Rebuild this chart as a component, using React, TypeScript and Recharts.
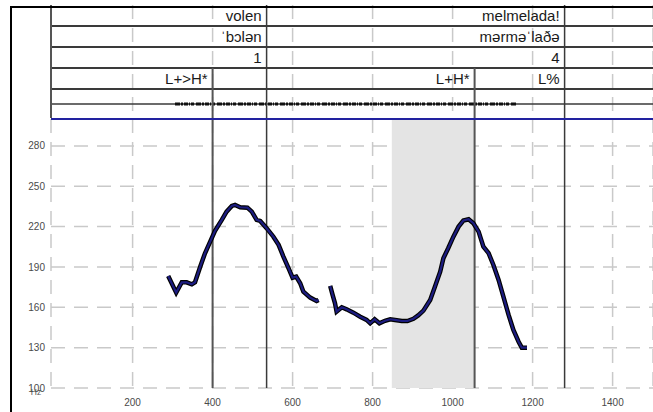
import React from 'react';
import {
  ComposedChart,
  Line,
  XAxis,
  YAxis,
  CartesianGrid,
  ReferenceLine,
  ReferenceArea,
  Scatter,
} from 'recharts';

// ---- axes ----
const X_DOMAIN: [number, number] = [-4, 1501];
const X_TICKS = [200, 400, 600, 800, 1000, 1200, 1400];
const Y_DOMAIN: [number, number] = [100, 300];
const Y_TICKS = [100, 130, 160, 190, 220, 250, 280];

// ---- pitch contour (ms, Hz); null = unvoiced gap ----
const TIME_MS = [
  289, 309, 323, 335, 348, 356, 369, 381, 394, 406, 423, 435, 448, 456, 469, 487, 498, 510, 519, 535,
  552, 565, 577, 590, 600, 609, 619, 627, 644, 660, 665,
  680,
  694, 700, 706, 710, 723, 735, 752, 769, 785, 794, 805, 817, 831, 844, 856, 873, 887, 902, 914, 927,
  944, 956, 969, 977, 989, 1002, 1015, 1027, 1040, 1052, 1065, 1077, 1090, 1102, 1115, 1127, 1140,
  1152, 1165, 1173, 1186,
];
const F0_HZ: (number | null)[] = [
  183.3, 170.9, 178.6, 178.6, 177.1, 178.6, 190.2, 200.2, 208.8, 216.8, 225, 231.1, 235.4, 236.1, 234.4,
  234.1, 231.1, 225, 224.2, 218.8, 212.5, 206.4, 197.7, 189, 182, 182.8, 177.9, 171.6, 167.2, 164.7, 165.4,
  null,
  175.9, 169.2, 163, 156.8, 160, 158.5, 156, 153, 150.6, 148.1, 151.1, 148.1, 150, 151.1, 150.6, 149.8,
  149.8, 151.5, 154, 157.5, 165.5, 175.4, 186.5, 196.5, 203.9, 212.5, 220, 224.5, 225.5, 222.5, 216.3,
  205.1, 200.2, 191.5, 180.3, 167.9, 154.3, 143.1, 134.4, 130, 130,
];

// ---- TextGrid ----
const TIER_DOMAIN: [number, number] = [0, 5.38];
const TIER_SEPARATORS = [1, 2, 3, 4, 4.71];
const WORD_BOUNDS_MS = [535, 1280];
const TONE_BOUNDS_MS = [400, 1055];
const TONE_TIER_TOP = 3;
const INTERVAL_END_MS = [535, 535, 535, 400, 1280, 1280, 1280, 1055, 1280];
const INTERVAL_TIER = [0, 1, 2, 3, 0, 1, 2, 3, 3];
const INTERVAL_TEXT = ['volen', 'ˈbɔlən', '1', 'L+>H*', 'melmelada!', 'mərməˈlaðə', '4', 'L+H*', 'L%'];
const SIGNAL_SPAN_MS = [306, 1161];
const SELECTION_MS = [848, 1055];

const FONT = '"Liberation Sans", Arial, sans-serif';
const GRID = { stroke: '#c9c9c9', strokeWidth: 1.5, strokeDasharray: '14 9' };

const pitchData = TIME_MS.map((t, i) => ({ t, hz: F0_HZ[i] }));
const labelData = INTERVAL_TEXT.map((text, i) => ({
  t: INTERVAL_END_MS[i],
  row: INTERVAL_TIER[i] + 0.5,
  text,
}));

const LabelShape = (props: any) => {
  const { cx, cy, payload } = props;
  return (
    <text
      x={cx - 5}
      y={cy + 5.5}
      textAnchor="end"
      fontFamily={FONT}
      fontSize={15}
      fill="#1a1a1a"
    >
      {payload.text}
    </text>
  );
};

const HzLabel = (props: any) => {
  const vb = props.viewBox || { x: 0, y: 0, width: 0, height: 0 };
  return (
    <text
      x={vb.x + vb.width - 15}
      y={vb.y + vb.height + 7}
      textAnchor="middle"
      fontFamily={FONT}
      fontSize={8.5}
      fill="#555"
    >
      Hz
    </text>
  );
};

export default function App() {
  return (
    <div style={{ position: 'absolute', left: 0, top: 0, width: 653, height: 412, background: '#fff', overflow: 'hidden' }}>
      {/* TextGrid tiers */}
      <div style={{ position: 'absolute', left: 0, top: 0 }}>
        <ComposedChart width={653} height={118} margin={{ top: 5, right: 0, bottom: 0, left: 51 }}>
          <XAxis type="number" dataKey="t" domain={X_DOMAIN} ticks={X_TICKS} allowDataOverflow hide />
          <YAxis type="number" dataKey="row" domain={TIER_DOMAIN} reversed allowDataOverflow hide />
          <CartesianGrid horizontal={false} vertical {...GRID} />
          {TIER_SEPARATORS.map((y) => (
            <ReferenceLine key={'s' + y} y={y} stroke="#3a3a3a" strokeWidth={y === 4.71 ? 1.5 : 2} />
          ))}
          <ReferenceLine x={X_DOMAIN[0]} stroke="#555" strokeWidth={2} />
          <ReferenceLine
            segment={[
              { x: SIGNAL_SPAN_MS[0], y: 4.71 },
              { x: SIGNAL_SPAN_MS[1], y: 4.71 },
            ]}
            stroke="#111"
            strokeWidth={3}
            strokeDasharray="5 1 2 1 4 1 1 1 3 2"
          />
          {WORD_BOUNDS_MS.map((x) => (
            <ReferenceLine key={'w' + x} x={x} stroke="#3a3a3a" strokeWidth={1.5} />
          ))}
          {TONE_BOUNDS_MS.map((x) => (
            <ReferenceLine
              key={'t' + x}
              segment={[
                { x, y: TONE_TIER_TOP },
                { x, y: TIER_DOMAIN[1] },
              ]}
              stroke="#555"
              strokeWidth={2}
            />
          ))}
          <Scatter data={labelData} dataKey="row" shape={LabelShape} isAnimationActive={false} />
        </ComposedChart>
      </div>

      {/* Pitch panel */}
      <div style={{ position: 'absolute', left: 0, top: 118 }}>
        <ComposedChart width={653} height={294} data={pitchData} margin={{ top: 1, right: 0, bottom: 0, left: 0 }}>
          <XAxis
            type="number"
            dataKey="t"
            domain={X_DOMAIN}
            ticks={X_TICKS}
            allowDataOverflow
            height={24}
            axisLine={false}
            tickLine={false}
            tickSize={0}
            tickMargin={11}
            tick={{ fontFamily: FONT, fontSize: 10, fill: '#4a4a4a' }}
          />
          <YAxis
            type="number"
            domain={Y_DOMAIN}
            ticks={Y_TICKS}
            allowDataOverflow
            width={51}
            axisLine={false}
            tickLine={false}
            tickSize={0}
            tickMargin={6}
            tick={{ fontFamily: FONT, fontSize: 10, fill: '#4a4a4a' }}
            label={<HzLabel />}
          />
          <ReferenceArea x1={SELECTION_MS[0]} x2={SELECTION_MS[1]} fill="#e4e4e4" fillOpacity={1} stroke="none" />
          <CartesianGrid {...GRID} />
          {WORD_BOUNDS_MS.map((x) => (
            <ReferenceLine key={'pw' + x} x={x} stroke="#3a3a3a" strokeWidth={1.5} />
          ))}
          {TONE_BOUNDS_MS.map((x) => (
            <ReferenceLine key={'pt' + x} x={x} stroke="#555" strokeWidth={2} />
          ))}
          <ReferenceLine y={Y_DOMAIN[1]} stroke="#2222a0" strokeWidth={2} />
          <Line
            type="linear"
            dataKey="hz"
            stroke="#000"
            strokeWidth={4.5}
            dot={false}
            connectNulls={false}
            isAnimationActive={false}
          />
          <Line
            type="linear"
            dataKey="hz"
            stroke="#1c1c80"
            strokeWidth={2.2}
            dot={false}
            connectNulls={false}
            isAnimationActive={false}
          />
        </ComposedChart>
      </div>

      {/* outer frame */}
      <div
        style={{
          position: 'absolute',
          left: 10,
          top: 6,
          width: 643,
          height: 406,
          borderLeft: '2px solid #000',
          borderTop: '2px solid #000',
          boxSizing: 'border-box',
          pointerEvents: 'none',
        }}
      />
    </div>
  );
}
